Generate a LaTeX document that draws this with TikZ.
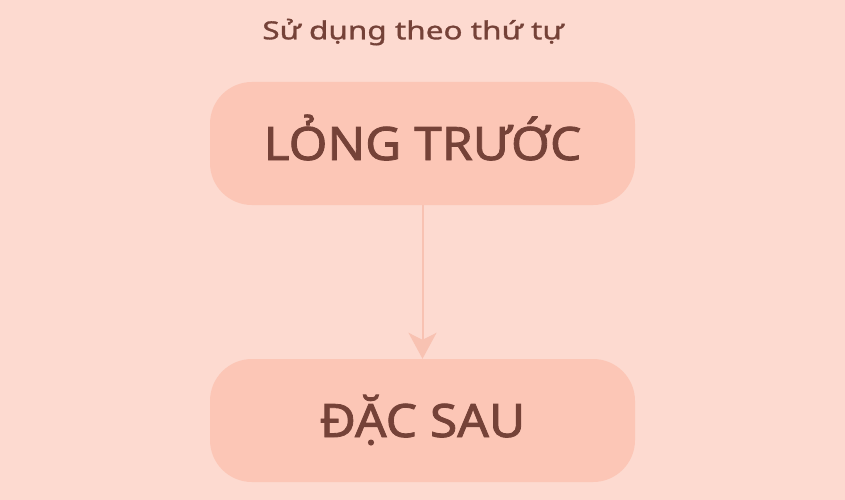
\documentclass[tikz,border=0pt]{standalone}
\usepackage{fontspec}
\setmainfont{Noto Sans}
\newfontfamily\titlefont{Noto Sans}[FakeBold=1.2,FakeStretch=1.26]
\newfontfamily\boxfont{Noto Sans}[FakeBold=1.8,FakeStretch=1.08]
\usetikzlibrary{arrows.meta}
\definecolor{bgpink}{HTML}{FDDAD0}
\definecolor{boxpink}{HTML}{FCC6B6}
\definecolor{txtbrown}{HTML}{754238}
\definecolor{arrpink}{HTML}{F8C2B2}
\tikzset{
  stepbox/.style={fill=boxpink, rounded corners=42pt, minimum width=425pt, minimum height=123pt,
    inner sep=0pt, text=txtbrown, text height=33pt, text depth=0pt,
    font=\boxfont\fontsize{46}{50}\selectfont},
  titletext/.style={text=txtbrown, inner sep=0pt, anchor=base, font=\titlefont\fontsize{25}{29}\selectfont},
  flowarrow/.style={draw=arrpink, line width=2pt, -{Stealth[length=26pt,width=28pt,inset=7pt]}}
}
\begin{document}
\begin{tikzpicture}[x=1pt,y=-1pt]
\fill[bgpink] (0,0) rectangle (845,500);
\useasboundingbox (0,0) rectangle (845,500);
\node[titletext] (title) at (413,39.3) {Sử dụng theo thứ tự};
\node[stepbox] (first) at (422.5,143.5) {LỎNG TRƯỚC};
\node[stepbox] (second) at (422.5,420.5) {ĐẶC SAU};
\draw[flowarrow] (first.south) -- (second.north);
\end{tikzpicture}
\end{document}
